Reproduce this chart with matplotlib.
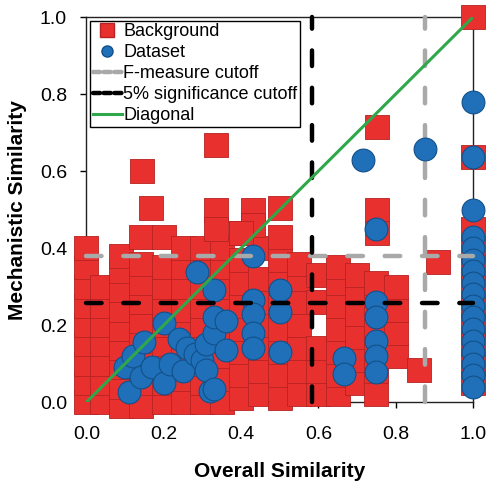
import matplotlib
matplotlib.use('Agg')
import matplotlib.pyplot as plt
from matplotlib.lines import Line2D

plt.rcParams['font.family'] = ['Liberation Sans', 'DejaVu Sans']

# Background pairs (red squares), listed column by column
bg_x = ([0.0] * 9 + [0.04] * 7 + [0.09] * 9 + [0.14] * 9 + [0.20] * 9 + [0.25] * 8
        + [0.30] * 9 + [0.35] * 8 + [0.40] * 8 + [0.45] * 7 + [0.50] * 8 + [0.55] * 7
        + [0.60] * 5 + [0.65] * 7 + [0.70] * 6 + [0.75] * 6 + [0.80] * 4
        + [0.86, 0.91, 1.0, 0.752, 0.752, 0.752, 0.335, 0.144, 0.167, 0.335, 0.335,
           0.43, 0.43, 0.40, 0.50, 1.0]
        + [1.0] * 9)
bg_y = ([0.0, 0.05, 0.10, 0.15, 0.20, 0.25, 0.30, 0.35, 0.40]
        + [0.0, 0.05, 0.10, 0.15, 0.20, 0.25, 0.30]
        + [-0.01, 0.04, 0.09, 0.14, 0.19, 0.24, 0.29, 0.34, 0.38]
        + [-0.01, 0.05, 0.10, 0.16, 0.21, 0.26, 0.31, 0.36, 0.43]
        + [0.0, 0.05, 0.10, 0.15, 0.20, 0.25, 0.30, 0.35, 0.43]
        + [0.0, 0.06, 0.12, 0.18, 0.24, 0.30, 0.35, 0.40]
        + [0.0, 0.05, 0.10, 0.15, 0.20, 0.25, 0.30, 0.36, 0.40]
        + [0.0, 0.06, 0.12, 0.18, 0.24, 0.30, 0.35, 0.40]
        + [0.01, 0.07, 0.13, 0.19, 0.25, 0.31, 0.37, 0.44]
        + [0.02, 0.08, 0.14, 0.20, 0.26, 0.32, 0.40]
        + [0.01, 0.07, 0.13, 0.19, 0.25, 0.31, 0.37, 0.43]
        + [0.02, 0.08, 0.14, 0.20, 0.26, 0.32, 0.36]
        + [0.02, 0.08, 0.14, 0.26, 0.33]
        + [0.02, 0.07, 0.13, 0.19, 0.25, 0.31, 0.35]
        + [0.05, 0.11, 0.17, 0.23, 0.29, 0.33]
        + [0.02, 0.08, 0.14, 0.20, 0.26, 0.31]
        + [0.12, 0.18, 0.24, 0.30]
        + [0.083, 0.365, 1.0, 0.714, 0.50, 0.44, 0.667, 0.60, 0.505, 0.50, 0.45,
           0.50, 0.46, 0.44, 0.505, 0.636]
        + [0.45, 0.40, 0.35, 0.30, 0.25, 0.20, 0.15, 0.10, 0.05])

# Dataset pairs (blue circles)
ds_x = [0.10, 0.12, 0.11, 0.14, 0.15, 0.17, 0.20, 0.20, 0.215, 0.24, 0.25, 0.26,
        0.28, 0.30, 0.32, 0.31, 0.31, 0.33, 0.33, 0.36, 0.36, 0.33, 0.286, 0.33,
        0.43, 0.43, 0.43, 0.43, 0.43, 0.50, 0.50, 0.50,
        0.667, 0.667, 0.75, 0.75, 0.75, 0.75, 0.75, 0.75, 0.715, 0.876] + [1.0] * 17
ds_y = [0.09, 0.12, 0.025, 0.065, 0.155, 0.09, 0.205, 0.05, 0.10, 0.165, 0.08, 0.14,
        0.125, 0.11, 0.03, 0.083, 0.15, 0.18, 0.22, 0.21, 0.135, 0.035, 0.337, 0.29,
        0.38, 0.265, 0.23, 0.18, 0.14, 0.29, 0.235, 0.13,
        0.115, 0.073, 0.26, 0.22, 0.16, 0.12, 0.078, 0.45, 0.63, 0.657,
        0.78, 0.636, 0.50, 0.43, 0.40, 0.37, 0.34, 0.31, 0.28, 0.25, 0.22, 0.19,
        0.16, 0.13, 0.10, 0.07, 0.04]

fmeasure_x = 0.876
fmeasure_y = 0.38
signif_x = 0.584
signif_y = 0.257

RED = '#e8312f'
RED_EDGE = '#b72222'
BLUE = '#1f70b8'
BLUE_EDGE = '#12508a'
GRAY = '#a9a9a9'
GREEN = '#2ea84a'
DASH = [3.5, 4.9]

fig = plt.figure(figsize=(4.94, 4.88), dpi=100)
ax = fig.add_axes([0.175, 0.176, 0.7825, 0.789])

ax.scatter(bg_x, bg_y, marker='s', s=320, facecolor=RED, edgecolor=RED_EDGE,
           linewidth=0.6, zorder=3, clip_on=False)
ax.plot([fmeasure_x, fmeasure_x], [0, 1], color=GRAY, lw=3.2, dashes=DASH,
        dash_capstyle='round', zorder=4, clip_on=False)
ax.scatter(ds_x, ds_y, marker='o', s=270, facecolor=BLUE, edgecolor=BLUE_EDGE,
           linewidth=0.8, zorder=5, clip_on=False)
ax.plot([0, 1], [fmeasure_y, fmeasure_y], color=GRAY, lw=3.2, dashes=DASH,
        dash_capstyle='round', zorder=6, clip_on=False)
ax.plot([0, 1], [signif_y, signif_y], color='black', lw=3.2, dashes=DASH,
        dash_capstyle='round', zorder=6, clip_on=False)
ax.plot([signif_x, signif_x], [0, 1], color='black', lw=3.2, dashes=DASH,
        dash_capstyle='round', zorder=6, clip_on=False)
ax.plot([0, 1], [0, 1], color=GREEN, lw=2.2, zorder=7)

ax.set_xlim(0, 1)
ax.set_ylim(0, 1)
ax.set_xticks([0.0, 0.2, 0.4, 0.6, 0.8, 1.0])
ax.set_yticks([0.0, 0.2, 0.4, 0.6, 0.8, 1.0])
ax.set_xticklabels(['0.0', '0.2', '0.4', '0.6', '0.8', '1.0'])
ax.set_yticklabels(['0.0', '0.2', '0.4', '0.6', '0.8', '1.0'])
ax.tick_params(axis='x', direction='out', length=4, width=1, pad=13, labelsize=14)
ax.tick_params(axis='y', direction='out', length=4, width=1, pad=10, labelsize=14)
for sp in ax.spines.values():
    sp.set_linewidth(1.0)
    sp.set_color('#222222')
    sp.set_zorder(2)

ax.set_xlabel('Overall Similarity', fontsize=15, fontweight='bold', labelpad=14)
ax.set_ylabel('Mechanistic Similarity', fontsize=15, fontweight='bold', labelpad=9)

handles = [
    Line2D([], [], ls='none', marker='s', ms=10, mfc=RED, mec=RED_EDGE),
    Line2D([], [], ls='none', marker='o', ms=8, mfc=BLUE, mec=BLUE_EDGE),
    Line2D([], [], color=GRAY, lw=3.2, dashes=[1.6, 0.8], dash_capstyle='round'),
    Line2D([], [], color='black', lw=3.2, dashes=[1.6, 0.8], dash_capstyle='round'),
    Line2D([], [], color=GREEN, lw=2.2),
]
labels = ['Background', 'Dataset', 'F-measure cutoff', '5% significance cutoff', 'Diagonal']
leg = ax.legend(handles, labels, loc='upper left', fontsize=13, frameon=True,
                fancybox=False, edgecolor='black', framealpha=1, borderpad=0.15,
                labelspacing=0.22, handlelength=1.6, handletextpad=0.1,
                borderaxespad=0.2)
leg.get_frame().set_linewidth(1.0)
leg.set_zorder(10)

fig.savefig('out.png', dpi=100)
